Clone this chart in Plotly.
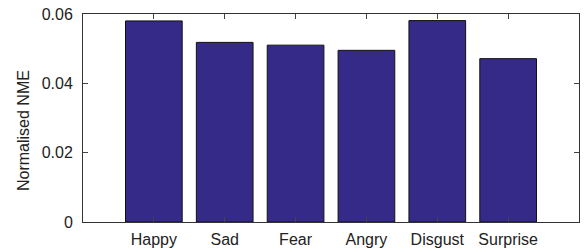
import plotly.graph_objects as go

categories = ["Happy", "Sad", "Fear", "Angry", "Disgust", "Surprise"]
values = [0.0581, 0.0519, 0.0511, 0.0496, 0.0582, 0.0472]
positions = [1, 2, 3, 4, 5, 6]
y_ticks = [0, 0.02, 0.04, 0.06]
y_tick_labels = ["0", "0.02", "0.04", "0.06"]

fig = go.Figure()
fig.add_trace(go.Bar(
    x=positions, y=values, width=0.8,
    marker=dict(color="#352A87", line=dict(color="#111111", width=1)),
))

font = dict(family="Liberation Sans, Arial, sans-serif", size=16, color="#222222")
title_font = dict(family="Liberation Sans, Arial, sans-serif", size=16, color="#222222")

fig.update_layout(
    width=588, height=252,
    margin=dict(l=83, r=9, t=14, b=30, autoexpand=False),
    paper_bgcolor="white", plot_bgcolor="white",
    showlegend=False,
    font=font,
    xaxis=dict(range=[0, 7], tickvals=positions, ticktext=categories,
               ticks="inside", ticklen=5, tickcolor="#444", mirror="ticks",
               showline=True, linecolor="#333", linewidth=1, automargin=False,
               ticklabelstandoff=3,
               showgrid=False, zeroline=False, tickfont=font),
    yaxis=dict(range=[0, 0.0601], tickvals=y_ticks, ticktext=y_tick_labels,
               ticks="inside", ticklen=5, tickcolor="#444", mirror="ticks",
               showline=True, linecolor="#333", linewidth=1, automargin=False,
               ticklabelstandoff=6,
               showgrid=False, zeroline=False, tickfont=font),
    annotations=[dict(text="Normalised NME", x=(23 - 83) / 496, y=(222 - 131) / 208,
                      xref="paper", yref="paper", xanchor="center", yanchor="middle",
                      showarrow=False, textangle=-90, font=title_font)],
)

fig.write_html(
    "out.html",
    config={"displayModeBar": False},
    post_script="document.body.style.margin='0';document.body.style.overflow='hidden';",
)
